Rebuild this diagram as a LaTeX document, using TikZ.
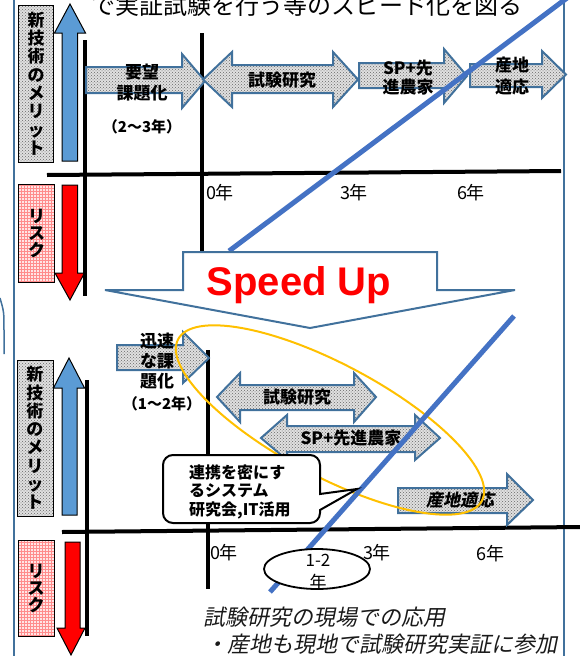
\documentclass[tikz,border=0pt]{standalone}
\usepackage{fontspec}
\usetikzlibrary{patterns,shapes.geometric}
\newfontfamily\jp{Noto Sans CJK JP}
\newfontfamily\jpsl{Noto Sans CJK JP}[FakeSlant=0.2]
\newfontfamily\arialf{Liberation Sans}
\definecolor{steel}{HTML}{41719C}
\definecolor{lblue}{HTML}{5B9BD5}
\definecolor{lineblue}{HTML}{4472C4}
\definecolor{ygold}{HTML}{FFC000}
\begin{document}
\begin{tikzpicture}[x=1pt,y=-1pt,
  frame/.style={draw=steel,line width=2.5pt},
  dotfill/.style={preaction={fill=black!12},pattern=crosshatch dots,pattern color=black!60},
  pinkfill/.style={preaction={fill=red!10},pattern=grid,pattern color=red!45},
  arr/.style={dotfill,draw=steel,line width=2pt,line join=miter},
  axisline/.style={draw=black,line width=4pt},
  upar/.style={fill=lblue,draw=black,line width=1pt,line join=miter},
  downar/.style={fill=red,draw=black,line width=1pt,line join=miter},
  bline/.style={draw=lineblue,line width=5pt},
  vlabel/.style={draw=black,line width=1pt,inner sep=0,align=center,font=\jp\bfseries\fontsize{17}{18.3}\selectfont},
  alabel/.style={inner sep=0,font=\jp\bfseries\fontsize{17}{19}\selectfont},
  yrs/.style={inner sep=0,font=\jp\fontsize{15}{17}\selectfont\bfseries},
  year/.style={inner sep=0,font=\jp\fontsize{18}{20}\selectfont},
  calltext/.style={inner sep=0,anchor=west,font=\jp\bfseries\fontsize{16}{18}\selectfont},
  note/.style={inner sep=0,anchor=west,font=\jpsl\fontsize{22}{24}\selectfont,text=black!90}
]
\useasboundingbox (0,0) rectangle (580,656);
\clip (0,0) rectangle (580,656);

% frame
\draw[frame] (14,-5) -- (14,660);
\draw[frame] (564,-5) -- (564,660);
\draw[frame,line width=1.5pt] (0,298) .. controls (4,312) .. (4,330) -- (4,354);

% title (cut off at the top, as in the reference)
\node[font=\jp\fontsize{24}{26}\selectfont,anchor=base,inner sep=0] (title) at (307,14) {で実証試験を行う等のスピード化を図る};

% ===== top section =====
\node[vlabel,dotfill,minimum width=35pt,minimum height=157pt] (merit1) at (36,83.5) {新\\技\\術\\の\\メ\\リ\\ッ\\ト};
\draw[upar] (62,161) -- (62,33) -- (54.5,33) -- (70,4) -- (85.5,33) -- (77.5,33) -- (77.5,161) -- cycle;
\node[vlabel,pinkfill,minimum width=36pt,minimum height=98pt,font=\jp\bfseries\fontsize{17}{17}\selectfont] (risk1) at (36.5,233) {リ\\ス\\ク};
\draw[downar] (62,185) -- (77.5,185) -- (77.5,273) -- (84.5,273) -- (70,300) -- (55,273) -- (62,273) -- cycle;

\draw[axisline] (85,40) -- (85,296);
\draw[axisline] (47,175) -- (561,171);
\draw[axisline] (202,33) -- (202,252);

% top arrows
\draw[arr] (86,67) -- (182,67) -- (182,54) -- (205,81) -- (182,108) -- (182,93) -- (86,93) -- cycle;
\node[alabel] (t1a) at (142,72) {要望};
\node[alabel] (t1b) at (142,93) {課題化};
\node[yrs] (t1c) at (142,127) {（2～3年）};

\draw[arr] (203,79.5) -- (232,52) -- (232,65) -- (333,65) -- (333,52) -- (358,79.5) -- (333,107) -- (333,93) -- (232,93) -- (232,107) -- cycle;
\node[alabel] (t2) at (282,80) {試験研究};

\draw[arr] (359,63) -- (444,63) -- (444,49) -- (467,76) -- (444,103) -- (444,88) -- (359,88) -- cycle;
\node[alabel] (t3a) at (408,68) {SP+先};
\node[alabel] (t3b) at (408,87) {進農家};

\draw[arr] (470,64) -- (542,64) -- (542,51) -- (566,74.5) -- (542,98) -- (542,87) -- (470,87) -- cycle;
\node[alabel] (t4a) at (512,65) {産地};
\node[alabel] (t4b) at (512,87) {適応};

\draw[bline] (229,251) -- (567,-2);

\node[year] (y0a) at (220,193) {0年};
\node[year] (y3a) at (354,193) {3年};
\node[year] (y6a) at (471,193) {6年};

% Speed Up arrow
\draw[fill=white,draw=steel,line width=2pt,line join=miter] (183,252) -- (437,252) -- (437,290) -- (515,290) -- (310,328) -- (105,290) -- (183,290) -- cycle;
\node[font=\arialf\bfseries\fontsize{40}{44}\selectfont,text=red,anchor=base,inner sep=0] (speed) at (299,295) {Speed Up};

% ===== bottom section =====
\node[vlabel,dotfill,minimum width=36pt,minimum height=156pt] (merit2) at (35,438) {新\\技\\術\\の\\メ\\リ\\ッ\\ト};
\draw[upar] (62,515) -- (62,388) -- (53.5,388) -- (69,358) -- (84.5,388) -- (77,388) -- (77,515) -- cycle;
\node[vlabel,pinkfill,minimum width=36pt,minimum height=96pt,font=\jp\bfseries\fontsize{17}{17}\selectfont] (risk2) at (36,588) {リ\\ス\\ク};
\draw[downar] (65,542) -- (80,542) -- (80,628) -- (85,628) -- (71,655) -- (57,628) -- (65,628) -- cycle;

\draw[axisline] (87,380) -- (87,636);
\draw[axisline] (62,532) -- (582,527);
\draw[axisline] (208,350) -- (208,589);

% bottom arrows
\draw[arr] (117,345) -- (183,345) -- (183,332) -- (209,358) -- (183,383) -- (183,370) -- (117,370) -- cycle;
\node[alabel] (b1a) at (157,341) {迅速};
\node[alabel] (b1b) at (157,361) {な課};
\node[alabel] (b1c) at (157,381) {題化};
\node[yrs] (b1d) at (162,404) {（1～2年）};

\draw[arr] (217,397) -- (240,373) -- (240,385) -- (354,385) -- (354,373) -- (376,397) -- (354,422) -- (354,410) -- (240,410) -- (240,422) -- cycle;
\node[alabel] (b2) at (297,397) {試験研究};

\draw[arr] (261,438) -- (287,415) -- (287,426) -- (415,426) -- (415,415) -- (440,438) -- (415,460) -- (415,452) -- (287,452) -- (287,460) -- cycle;
\node[alabel] (b3) at (351,438) {SP+先進農家};

\draw[arr] (398,488) -- (507,488) -- (507,474) -- (533,500) -- (507,525) -- (507,513) -- (398,513) -- cycle;
\node[alabel,font=\jpsl\bfseries\fontsize{17}{19}\selectfont] (b4) at (460,500) {産地適応};

% yellow ellipse
\draw[ygold,line width=2pt,rotate around={-28:(330,420)}] (330,420) ellipse [x radius=172pt,y radius=56pt];

\draw[bline] (514,316) -- (270,592);

% callout
\draw[fill=white,draw=black,line width=2pt,line join=miter] (320,494) [rounded corners=10pt] -- (320,455) -- (163,455) -- (163,523) -- (320,523) [sharp corners] -- (320,510) -- (357,489) -- cycle;
\node[calltext] (c1) at (189,472) {連携を密にす};
\node[calltext] (c2) at (189,491) {るシステム};
\node[calltext] (c3) at (189,510) {研究会,IT活用};

% 1-2 year ellipse
\node[draw=black,ellipse,line width=1.8pt,fill=white,minimum width=106pt,minimum height=40pt,inner sep=0] (e12) at (317,569) {};
\node[year,font=\jp\fontsize{17}{19}\selectfont] (e12a) at (318,560) {1-2};
\node[year,font=\jp\fontsize{17}{19}\selectfont] (e12b) at (318,582) {年};

\node[year] (y0b) at (224,553) {0年};
\node[year] (y3b) at (377,553) {3年};
\node[year] (y6b) at (490,554) {6年};

% bottom notes
\node[note] (n1) at (203,617) {試験研究の現場での応用};
\node[note] (n2) at (205,644) {・産地も現地で試験研究実証に参加};
\end{tikzpicture}
\end{document}
